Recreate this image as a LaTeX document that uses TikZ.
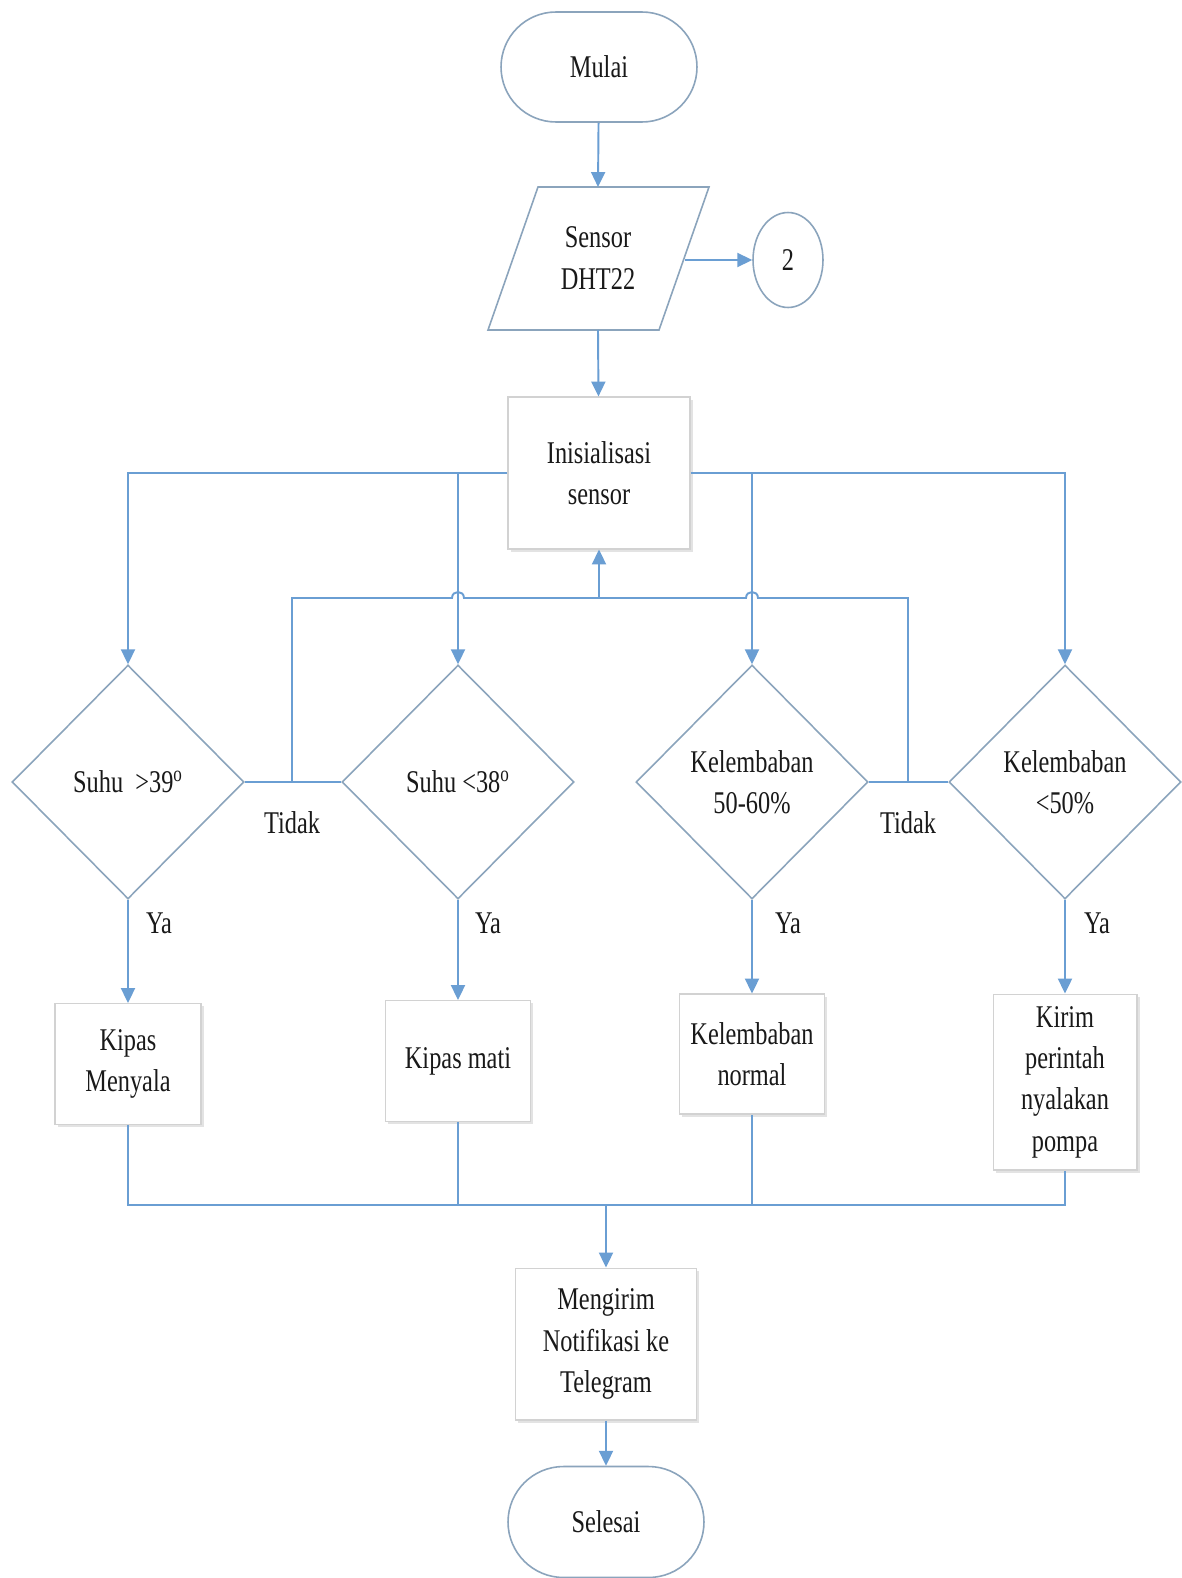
\documentclass[tikz,border=0pt]{standalone}
\usepackage{fontspec}
\setmainfont{Liberation Serif}[FakeStretch=0.77]
\usetikzlibrary{shapes.geometric,arrows.meta,shadows}
\definecolor{flow}{HTML}{6A9ED3}
\definecolor{edge}{HTML}{8BA4BC}
\definecolor{boxedge}{HTML}{D2D2D2}

\begin{document}
\begin{tikzpicture}[x=0.02cm,y=-0.02cm,
  every node/.style={font=\fontsize{18}{23.5}\selectfont, align=center, text=black!90},
  flowline/.style={draw=flow, line width=1.1pt},
  arr/.style={flowline, -{Triangle[length=8.5pt,width=8pt]}},
  terminal/.style={draw=edge, line width=0.9pt, rectangle, rounded corners=1.1cm,
    minimum width=3.92cm, minimum height=2.2cm, fill=white},
  procbox/.style={draw=boxedge, line width=0.6pt, fill=white, inner sep=2pt,
    drop shadow={opacity=0.22, shadow xshift=1.5pt, shadow yshift=-1.5pt}},
  decision/.style={draw=edge, line width=0.9pt, diamond, aspect=1, inner sep=0pt,
    minimum width=4.64cm, minimum height=4.68cm, fill=white},
  lbl/.style={inner sep=0pt}
]
\useasboundingbox[fill=white] (0,0) rectangle (1182,1578);

% start
\node[terminal] (start) at (599,67) {Mulai};

% input: sensor reading (parallelogram)
\draw[draw=edge, line width=0.9pt, fill=white]
  (538,187) -- (709,187) -- (659,330) -- (488,330) -- cycle;
\node (sensor) at (598,258) {Sensor\\DHT22};
\coordinate (sensorTop) at (598,187);
\coordinate (sensorBot) at (598,330);
\coordinate (sensorRight) at (685,260);

% off-page connector
\node[draw=edge, line width=0.9pt, ellipse, minimum width=1.4cm, minimum height=1.9cm,
  inner sep=0pt] (conn) at (788,260) {2};

% initialisation
\node[procbox, minimum width=3.64cm, minimum height=3.04cm] (init) at (599,473)
  {Inisialisasi\\sensor};

% decisions
\node[decision] (d1) at (128,782) {Suhu \ >39\textsuperscript{o}};
\node[decision] (d2) at (458,782) {Suhu <38\textsuperscript{o}};
\node[decision] (d3) at (752,782) {Kelembaban\\50-60\%};
\node[decision] (d4) at (1065,782) {Kelembaban\\<50\%};

% actions
\node[procbox, minimum width=2.92cm, minimum height=2.42cm] (b1) at (128,1064) {Kipas\\Menyala};
\node[procbox, minimum width=2.9cm, minimum height=2.42cm] (b2) at (458,1061) {Kipas mati};
\node[procbox, minimum width=2.9cm, minimum height=2.4cm] (b3) at (752,1054) {Kelembaban\\normal};
\node[procbox, minimum width=2.88cm, minimum height=3.52cm] (b4) at (1065,1082)
  {Kirim\\perintah\\nyalakan\\pompa};

% notification and end
\node[procbox, minimum width=3.62cm, minimum height=3.04cm] (notify) at (606,1344)
  {Mengirim\\Notifikasi ke\\Telegram};
\node[terminal, minimum height=2.22cm, rounded corners=1.11cm] (stop) at (606,1522) {Selesai};

% labels
\node[lbl] (t1) at (292,823) {Tidak};
\node[lbl] (t2) at (908,823) {Tidak};
\node[lbl] (y1) at (159,923) {Ya};
\node[lbl] (y2) at (488,923) {Ya};
\node[lbl] (y3) at (788,923) {Ya};
\node[lbl] (y4) at (1097,923) {Ya};

% main flow
\draw[arr] (start) -- (sensorTop);
\draw[arr] (sensorBot) -- (init);
\draw[arr] (sensorRight) -- (conn);

% branches to the decisions
\draw[arr] (init.west) -| (d1.north);
\draw[arr] (init.west -| d2.north) -- (d2.north);
\draw[arr] (init.east) -| (d4.north);
\draw[arr] (init.east -| d3.north) -- (d3.north);

% "Tidak" loops back to the initialisation
\coordinate (jl) at (292,782);
\coordinate (jr) at (908,782);
\coordinate (fbL) at (292,598);
\coordinate (fbR) at (908,598);
\coordinate (fbM) at (599,598);
\draw[flowline] (d1.east) -- (d2.west);
\draw[flowline] (d3.east) -- (d4.west);
\draw[flowline] (jl) -- (fbL) -- (452,598)
  .. controls (452,590) and (464,590) .. (464,598) -- (746,598)
  .. controls (746,590) and (758,590) .. (758,598) -- (fbR) -- (jr);
\draw[arr] (fbM) -- (init.south);

% "Ya" branches
\draw[arr] (d1.south) -- (b1);
\draw[arr] (d2.south) -- (b2);
\draw[arr] (d3.south) -- (b3);
\draw[arr] (d4.south) -- (b4);

% merge to notification
\coordinate (mrg) at (606,1205);
\draw[flowline] (b1.south) |- (mrg) -| (b4.south);
\draw[flowline] (b2.south) |- (mrg) -| (b3.south);
\draw[arr] (mrg) -- (notify);
\draw[arr] (notify) -- (stop);
\end{tikzpicture}
\end{document}
